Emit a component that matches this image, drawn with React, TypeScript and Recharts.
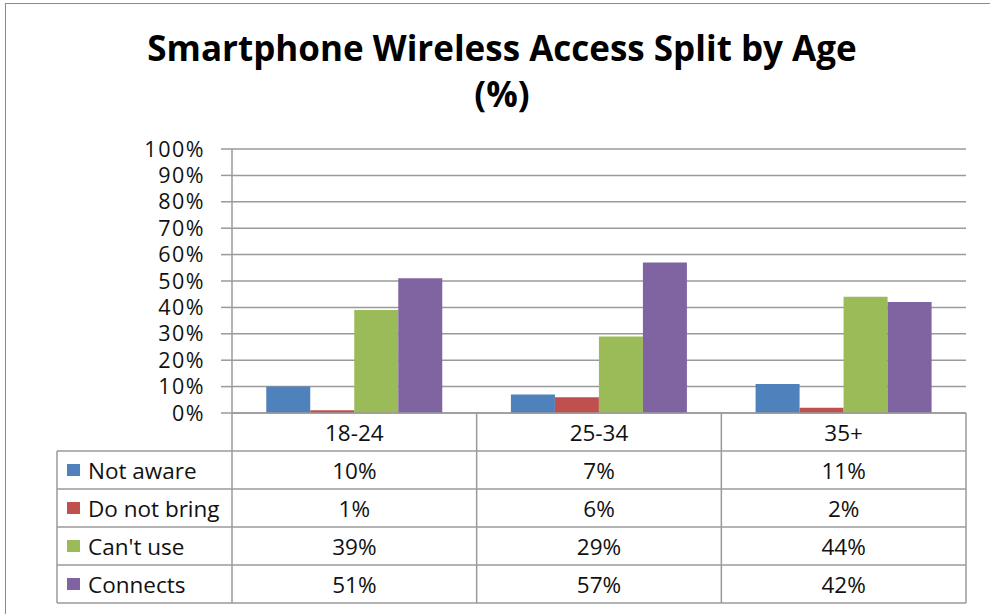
import { BarChart, Bar, XAxis, YAxis, CartesianGrid } from 'recharts'

const categories = ['18-24', '25-34', '35+']
const seriesNames = ['Not aware', 'Do not bring', "Can't use", 'Connects']
const notAware = [10, 7, 11]
const doNotBring = [1, 6, 2]
const cantUse = [39, 29, 44]
const connects = [51, 57, 42]
const yTicks = [0, 10, 20, 30, 40, 50, 60, 70, 80, 90, 100]

const colors = ['#4F81BD', '#C0504D', '#9BBB59', '#8064A2']
const keys = ['notAware', 'doNotBring', 'cantUse', 'connects']
const seriesValues = [notAware, doNotBring, cantUse, connects]

const data = categories.map((c, i) => ({
  age: c,
  notAware: notAware[i],
  doNotBring: doNotBring[i],
  cantUse: cantUse[i],
  connects: connects[i],
}))

const FONT = '"Open Sans", sans-serif'
const LINE = '#9a9a9a'
const ROW_H = 38
const LEGEND_LEFT = 57
const TABLE_FS = 22.5

function TableTick(props: any) {
  const { x, y, payload, index, width, visibleTicksCount } = props
  const band = width / visibleTicksCount
  const left = x - band / 2
  const right = x + band / 2
  const bottom = y + ROW_H * 5
  return (
    <g>
      <text
        x={x}
        y={y + ROW_H / 2}
        textAnchor="middle"
        dominantBaseline="central"
        fontFamily={FONT}
        fontSize={TABLE_FS}
        fill="#111"
      >
        {payload.value}
      </text>
      {seriesValues.map((vals, r) => (
        <text
          key={r}
          x={x}
          y={y + ROW_H * (r + 1.5)}
          textAnchor="middle"
          dominantBaseline="central"
          fontFamily={FONT}
          fontSize={TABLE_FS}
          fill="#111"
        >
          {vals[index]}%
        </text>
      ))}
      <line x1={right} x2={right} y1={y} y2={bottom} stroke={LINE} strokeWidth={1.5} />
      {index === 0 && (
        <g>
          <line x1={left} x2={left} y1={y} y2={bottom} stroke={LINE} strokeWidth={1.5} />
          <line x1={LEGEND_LEFT} x2={LEGEND_LEFT} y1={y + ROW_H} y2={bottom} stroke={LINE} strokeWidth={1.5} />
          {[1, 2, 3, 4, 5].map((r) => (
            <line
              key={r}
              x1={LEGEND_LEFT}
              x2={left + width}
              y1={y + ROW_H * r}
              y2={y + ROW_H * r}
              stroke={LINE}
              strokeWidth={1.5}
            />
          ))}
          {seriesNames.map((name, r) => (
            <g key={name}>
              <rect x={67} y={y + ROW_H * (r + 1.5) - 6} width={13} height={12} fill={colors[r]} />
              <text
                x={88}
                y={y + ROW_H * (r + 1.5)}
                dominantBaseline="central"
                fontFamily={FONT}
                fontSize={TABLE_FS}
                fill="#111"
              >
                {name}
              </text>
            </g>
          ))}
        </g>
      )}
    </g>
  )
}

export default function App() {
  return (
    <div style={{ position: 'absolute', left: 0, top: 0, width: 990, height: 614, background: '#fff' }}>
      <div
        style={{
          position: 'absolute',
          left: 5,
          top: 3,
          width: 985,
          height: 611,
          borderTop: '1.5px solid #8a8a8a',
          borderLeft: '1.5px solid #8a8a8a',
          boxSizing: 'border-box',
        }}
      />
      <div
        style={{
          position: 'absolute',
          left: 0,
          width: 1004,
          top: 25,
          textAlign: 'center',
          fontFamily: FONT,
          fontWeight: 700,
          fontSize: 35,
          lineHeight: '46px',
          color: '#000',
        }}
      >
        Smartphone Wireless Access Split by Age
        <br />
        (%)
      </div>
      <BarChart
        width={990}
        height={614}
        data={data}
        margin={{ top: 149, right: 24, bottom: 11, left: 0 }}
        barCategoryGap="14%"
        barGap={0}
      >
        <CartesianGrid vertical={false} stroke={LINE} strokeWidth={1.5} />
        <XAxis
          dataKey="age"
          height={190}
          interval={0}
          tickLine={false}
          tickSize={0}
          tickMargin={0}
          axisLine={{ stroke: LINE, strokeWidth: 1.5 }}
          tick={<TableTick />}
        />
        <YAxis
          width={232}
          domain={[0, 100]}
          ticks={yTicks}
          interval={0}
          tickFormatter={(v) => `${v}%`}
          tickSize={11}
          tickMargin={16}
          tickLine={{ stroke: LINE, strokeWidth: 1.5 }}
          axisLine={{ stroke: LINE, strokeWidth: 1.5 }}
          tick={{ fontFamily: FONT, fontSize: 21.5, fill: '#111', letterSpacing: 1.5 }}
        />
        {keys.map((k, i) => (
          <Bar key={k} dataKey={k} fill={colors[i]} isAnimationActive={false} />
        ))}
      </BarChart>
    </div>
  )
}
